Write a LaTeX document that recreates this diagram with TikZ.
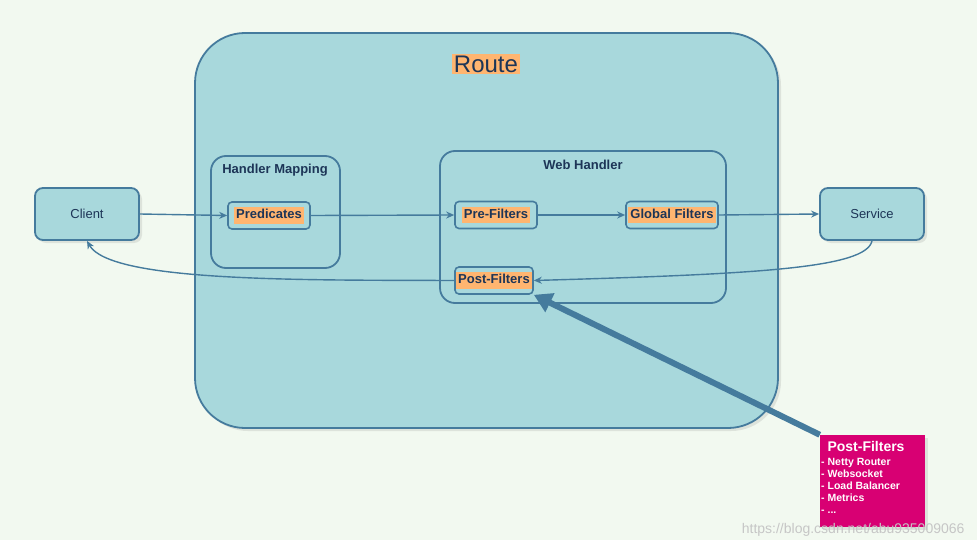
\documentclass[tikz,border=0pt]{standalone}
\usepackage{fontspec}
\setmainfont{Liberation Sans}
\usetikzlibrary{arrows.meta,shadows}
\definecolor{mybg}{RGB}{242,249,240}
\definecolor{myteal}{RGB}{168,216,220}
\definecolor{myblue}{RGB}{69,123,157}
\definecolor{mytext}{RGB}{29,53,87}
\definecolor{myorange}{RGB}{255,181,112}
\definecolor{mypink}{RGB}{216,0,115}
\tikzset{
  sketchbox/.style={draw=myblue, line width=1.8pt, fill=myteal},
  shadowed/.style={drop shadow={opacity=0.18, shadow xshift=3pt, shadow yshift=-3pt}},
  endbox/.style={sketchbox, shadowed, rounded corners=8pt, minimum width=104pt,
    minimum height=52pt, text=mytext, font=\fontsize{13}{15}\selectfont},
  filterbox/.style={draw=myblue, line width=1.6pt, rounded corners=4pt,
    minimum height=27pt, inner sep=1pt, text=mytext,
    font=\bfseries\fontsize{13}{15}\selectfont},
  grouptitle/.style={text=mytext, font=\bfseries\fontsize{13}{15}\selectfont},
  flow/.style={draw=myblue, line width=1.4pt, -{Stealth[length=8pt,width=7pt]}},
}
\newcommand{\hl}[1]{{\setlength{\fboxsep}{2pt}\colorbox{myorange}{\vphantom{Pg}#1}}}
\begin{document}
\begin{tikzpicture}[x=1pt,y=-1pt]
  \fill[mybg] (0,0) rectangle (977,540);
  \useasboundingbox (0,0) rectangle (977,540);
  % route container
  \node[sketchbox, shadowed, rounded corners=50pt, minimum width=583pt,
    minimum height=395pt] (route) at (486.5,230.5) {};
  \node[fill=myorange, inner sep=2pt, text=mytext,
    font=\fontsize{24}{28}\selectfont] (routelbl) at (486,64) {Route};
  % handler mapping
  \node[draw=myblue, line width=1.8pt, rounded corners=15pt, minimum width=129pt,
    minimum height=112pt] (hmap) at (275.5,212) {};
  \node[grouptitle] (hmaplbl) at (275,170) {Handler Mapping};
  \node[filterbox, minimum width=82pt] (pred) at (269,215.5) {\hl{Predicates}};
  % web handler
  \node[draw=myblue, line width=1.8pt, rounded corners=15pt, minimum width=286pt,
    minimum height=152pt] (webh) at (583,227) {};
  \node[grouptitle] (webhlbl) at (583,165) {Web Handler};
  \node[filterbox, minimum width=82pt] (pref) at (496,215) {\hl{Pre-Filters}};
  \node[filterbox, minimum width=92pt] (glob) at (672,215) {\hl{Global Filters}};
  \node[filterbox, minimum width=78pt] (postf) at (494,280.5) {\hl{Post-Filters}};
  % client and service
  \node[endbox] (client) at (87,214) {Client};
  \node[endbox] (service) at (872,214) {Service};
  % request and response flow
  \draw[flow] (client.east) -- (pred.west);
  \draw[flow] (pred.east) -- (pref.west);
  \draw[flow] (pref.east) -- (glob.west);
  \draw[flow] (glob.east) -- (service.west);
  \draw[flow] (service.south) .. controls (866,268) and (760,274) .. (postf.east);
  \draw[flow] (postf.west) .. controls (300,280) and (110,282) .. (client.south);
  % post-filters note
  \node[fill=mypink, shadowed, minimum width=105pt, minimum height=92pt]
    (note) at (872.5,481) {};
  \node[anchor=north, text=white, inner sep=0pt,
    font=\bfseries\fontsize{14}{16}\selectfont] (notetitle) at (866,441) {Post-Filters};
  \node[anchor=north west, align=left, text=white, inner sep=0pt,
    font=\bfseries\fontsize{10.5}{12}\selectfont] (notelist) at (821,458)
    {- Netty Router\\- Websocket\\- Load Balancer\\- Metrics\\- ...};
  \draw[draw=myblue, line width=6pt,
    -{Triangle[length=18pt,width=20pt]}] (note.north west) -- (postf.south east);
  % watermark
  \node[draw=none, font=\fontsize{14}{16}\selectfont,
    anchor=east] (wmark) at (968,530)
    {\color{gray!45}https://blog.csdn.net/abu935009066};
\end{tikzpicture}
\end{document}
